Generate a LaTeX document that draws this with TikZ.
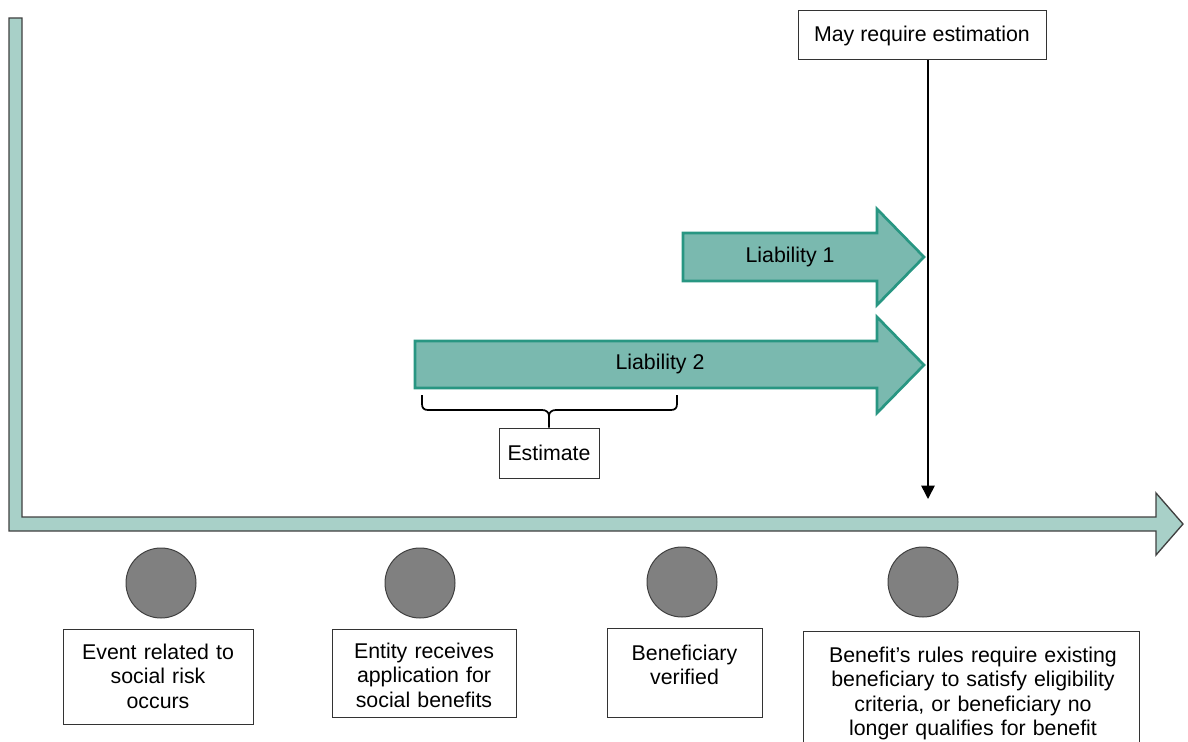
\documentclass[tikz,border=0pt]{standalone}
\usepackage{fontspec}
\setmainfont{Liberation Sans}
\usetikzlibrary{arrows.meta}

\definecolor{axisfill}{RGB}{168,208,200}
\definecolor{axisline}{RGB}{64,64,64}
\definecolor{liabfill}{RGB}{122,185,175}
\definecolor{liabline}{RGB}{40,150,130}
\definecolor{dotfill}{RGB}{128,128,128}

\tikzset{every picture/.style={line width=0.75pt}}
\tikzset{
  evbox/.style={draw=black!80, line width=0.75pt, inner sep=0pt},
  evtext/.style={anchor=base, inner sep=0pt, align=center},
  evdot/.style={circle, draw=axisline, fill=dotfill, minimum size=52.5pt, inner sep=0pt},
  liab/.style={draw=liabline, fill=liabfill, line width=2pt},
}

\begin{document}
\begin{tikzpicture}[x=0.75pt,y=0.75pt,yscale=-1,xscale=1,font=\fontsize{16pt}{18.4pt}\selectfont]
\useasboundingbox (0,0) rectangle (1188,742);

%Shape: Time axis
\draw [draw=axisline, fill=axisfill, line width=1pt] (9,18) -- (22,18) -- (22,517) -- (1156,517) -- (1156,493) -- (1183,524) -- (1156,555) -- (1156,531) -- (9,531) -- cycle ;

%Shape: Liability 1
\draw [liab] (683,233) -- (877,233) -- (877,209) -- (924,257) -- (877,305) -- (877,281) -- (683,281) -- cycle ;
%Shape: Liability 2
\draw [liab] (415,341) -- (877,341) -- (877,317) -- (924,365) -- (877,413) -- (877,388) -- (415,388) -- cycle ;

% Text Node
\node (liab1) at (790,257) {Liability 1};
% Text Node
\node (liab2) at (660,364) {Liability 2};

% Text Node
\node [evbox, minimum width=75pt, minimum height=37.5pt] (est) at (549,453) {Estimate};
%Shape: Brace
\draw [line width=1.3pt] (422,395) -- (422,404) .. controls (422,408) and (424,410) .. (428,410) -- (542,410) .. controls (546,410) and (549,412) .. (549,416) -- (est.north) ;
\draw [line width=1.3pt] (677,395) -- (677,404) .. controls (677,408) and (675,410) .. (671,410) -- (556,410) .. controls (552,410) and (549,412) .. (549,416) ;

% Text Node
\node [evbox, minimum width=186pt, minimum height=36.75pt] (may) at (922,35.5) {May require estimation};
\coordinate (mayend) at (928,499);
%Straight Lines
\draw [line width=1.2pt, -{Triangle[width=10pt,length=10pt]}] (may.south -| mayend) -- (mayend) ;

%Shape: Circles
\node [evdot] (dot1) at (161,583) {};
\node [evdot] (dot2) at (420,583) {};
\node [evdot] (dot3) at (682,582) {};
\node [evdot] (dot4) at (923,582) {};

% Text Node
\node [evbox, minimum width=142.5pt, minimum height=71.25pt] (ev1) at (158,676.5) {};
\node [evtext, text width=140pt] (ev1txt) at (158,659) {Event related to\\social risk\\occurs};
% Text Node
\node [evbox, minimum width=138pt, minimum height=66pt] (ev2) at (424,673) {};
\node [evtext, text width=136pt] (ev2txt) at (424,658) {Entity receives\\application for\\social benefits};
% Text Node
\node [evbox, minimum width=116.25pt, minimum height=66.75pt] (ev3) at (684.5,672.5) {};
\node [evtext, text width=114pt] (ev3txt) at (684.5,660) {Beneficiary\\verified};
% Text Node
\node [evbox, minimum width=252pt, minimum height=90pt] (ev4) at (971,691) {};
\node [evtext, text width=250pt] (ev4txt) at (973,662) {Benefit’s rules require existing\\beneficiary to satisfy eligibility\\criteria, or beneficiary no\\longer qualifies for benefit};

\end{tikzpicture}
\end{document}
